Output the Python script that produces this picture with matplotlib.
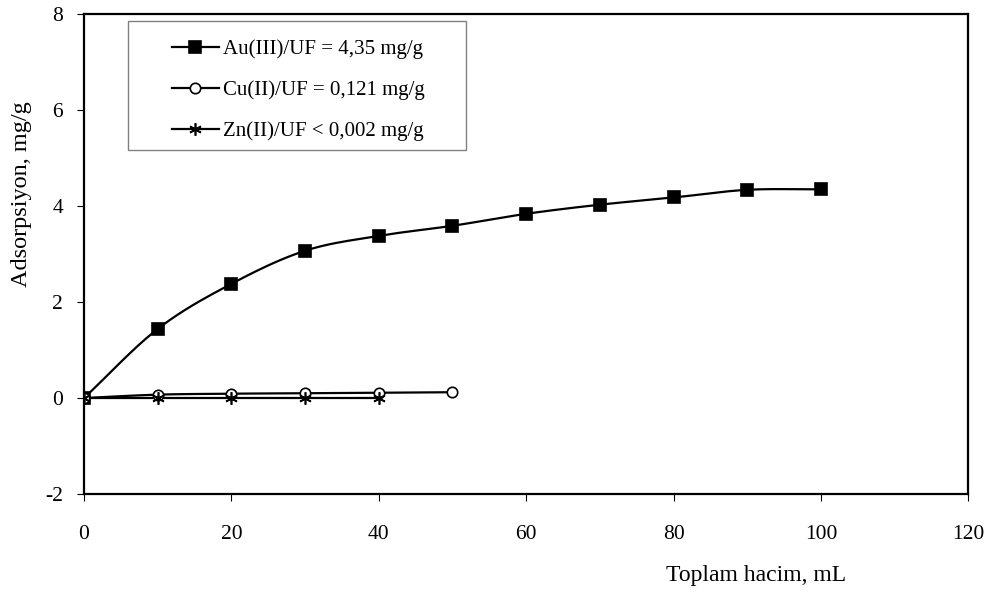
import numpy as np
import matplotlib
matplotlib.use("Agg")
from matplotlib import pyplot as plt
from matplotlib.patches import Rectangle

plt.rcParams['font.family'] = ['Liberation Serif', 'DejaVu Serif']
plt.rcParams['axes.unicode_minus'] = False

# data
hacim_au = [0, 10, 20, 30, 40, 50, 60, 70, 80, 90, 100]
ads_au = [0, 1.44, 2.38, 3.07, 3.38, 3.59, 3.84, 4.03, 4.18, 4.34, 4.35]
hacim_cu = [0, 10, 20, 30, 40, 50]
ads_cu = [0, 0.07, 0.09, 0.10, 0.11, 0.121]
hacim_zn = [0, 10, 20, 30, 40]
ads_zn = [0, 0, 0, 0, 0]

labels = ["Au(III)/UF = 4,35 mg/g", "Cu(II)/UF = 0,121 mg/g", "Zn(II)/UF < 0,002 mg/g"]


def smooth(x, y, n=20):
    # catmull-rom curve through the points (like excel smoothed lines)
    x = np.asarray(x, float)
    y = np.asarray(y, float)
    px = np.concatenate([[2 * x[0] - x[1]], x, [2 * x[-1] - x[-2]]])
    py = np.concatenate([[2 * y[0] - y[1]], y, [2 * y[-1] - y[-2]]])
    xs, ys = [], []
    t = np.linspace(0, 1, n)
    for i in range(1, len(px) - 2):
        for p, out in ((px, xs), (py, ys)):
            p0, p1, p2, p3 = p[i - 1], p[i], p[i + 1], p[i + 2]
            out.extend(0.5 * ((2 * p1) + (-p0 + p2) * t + (2 * p0 - 5 * p1 + 4 * p2 - p3) * t ** 2
                              + (-p0 + 3 * p1 - 3 * p2 + p3) * t ** 3))
    return xs, ys


fig = plt.figure(figsize=(9.93, 5.93), dpi=100)
ax = fig.add_axes([0.0846, 0.167, 0.8906, 0.809])

star = (6, 2, 0)
series = [(hacim_au, ads_au, 's', 'black', 8),
          (hacim_cu, ads_cu, 'o', 'white', 7.5),
          (hacim_zn, ads_zn, star, 'black', 9)]
handles = []
for (x, y, mk, fc, ms), lab in zip(series, labels):
    sx, sy = smooth(x, y)
    ax.plot(sx, sy, color='black', lw=1.6, zorder=2)
    ax.plot(x, y, ls='none', marker=mk, ms=ms, mfc=fc, mec='black', mew=1.2, zorder=3)
    h, = ax.plot([], [], color='black', lw=1.6, marker=mk, ms=ms, mfc=fc, mec='black', mew=1.2)
    handles.append(h)

ax.set_xlim(0, 120)
ax.set_ylim(-2, 8)
ax.set_xticks(range(0, 121, 20))
ax.set_yticks(range(-2, 9, 2))
ax.tick_params(axis='both', direction='out', length=5, width=0.8, labelsize=15.5)
ax.tick_params(axis='x', pad=17)
ax.tick_params(axis='y', pad=10)
for sp in ax.spines.values():
    sp.set_linewidth(1.6)

fig.text(0.022, 0.673, "Adsorpsiyon, mg/g", fontsize=17.5, rotation=90, ha='center', va='center')
fig.text(0.761, 0.030, "Toplam hacim, mL", fontsize=17, ha='center', va='center')

# legend box
ax.add_patch(Rectangle((0.0498, 0.7166), 0.3824, 0.2687, transform=ax.transAxes,
                       facecolor='white', edgecolor='#808080', lw=1.0, zorder=4))
leg = ax.legend(handles, labels, loc='upper left', bbox_to_anchor=(0.0995, 0.947),
                fontsize=15, frameon=False, borderaxespad=0, borderpad=0,
                handlelength=2.25, labelspacing=1.02, handletextpad=0.2)
leg.set_zorder(5)

fig.savefig("out.png", dpi=100)
